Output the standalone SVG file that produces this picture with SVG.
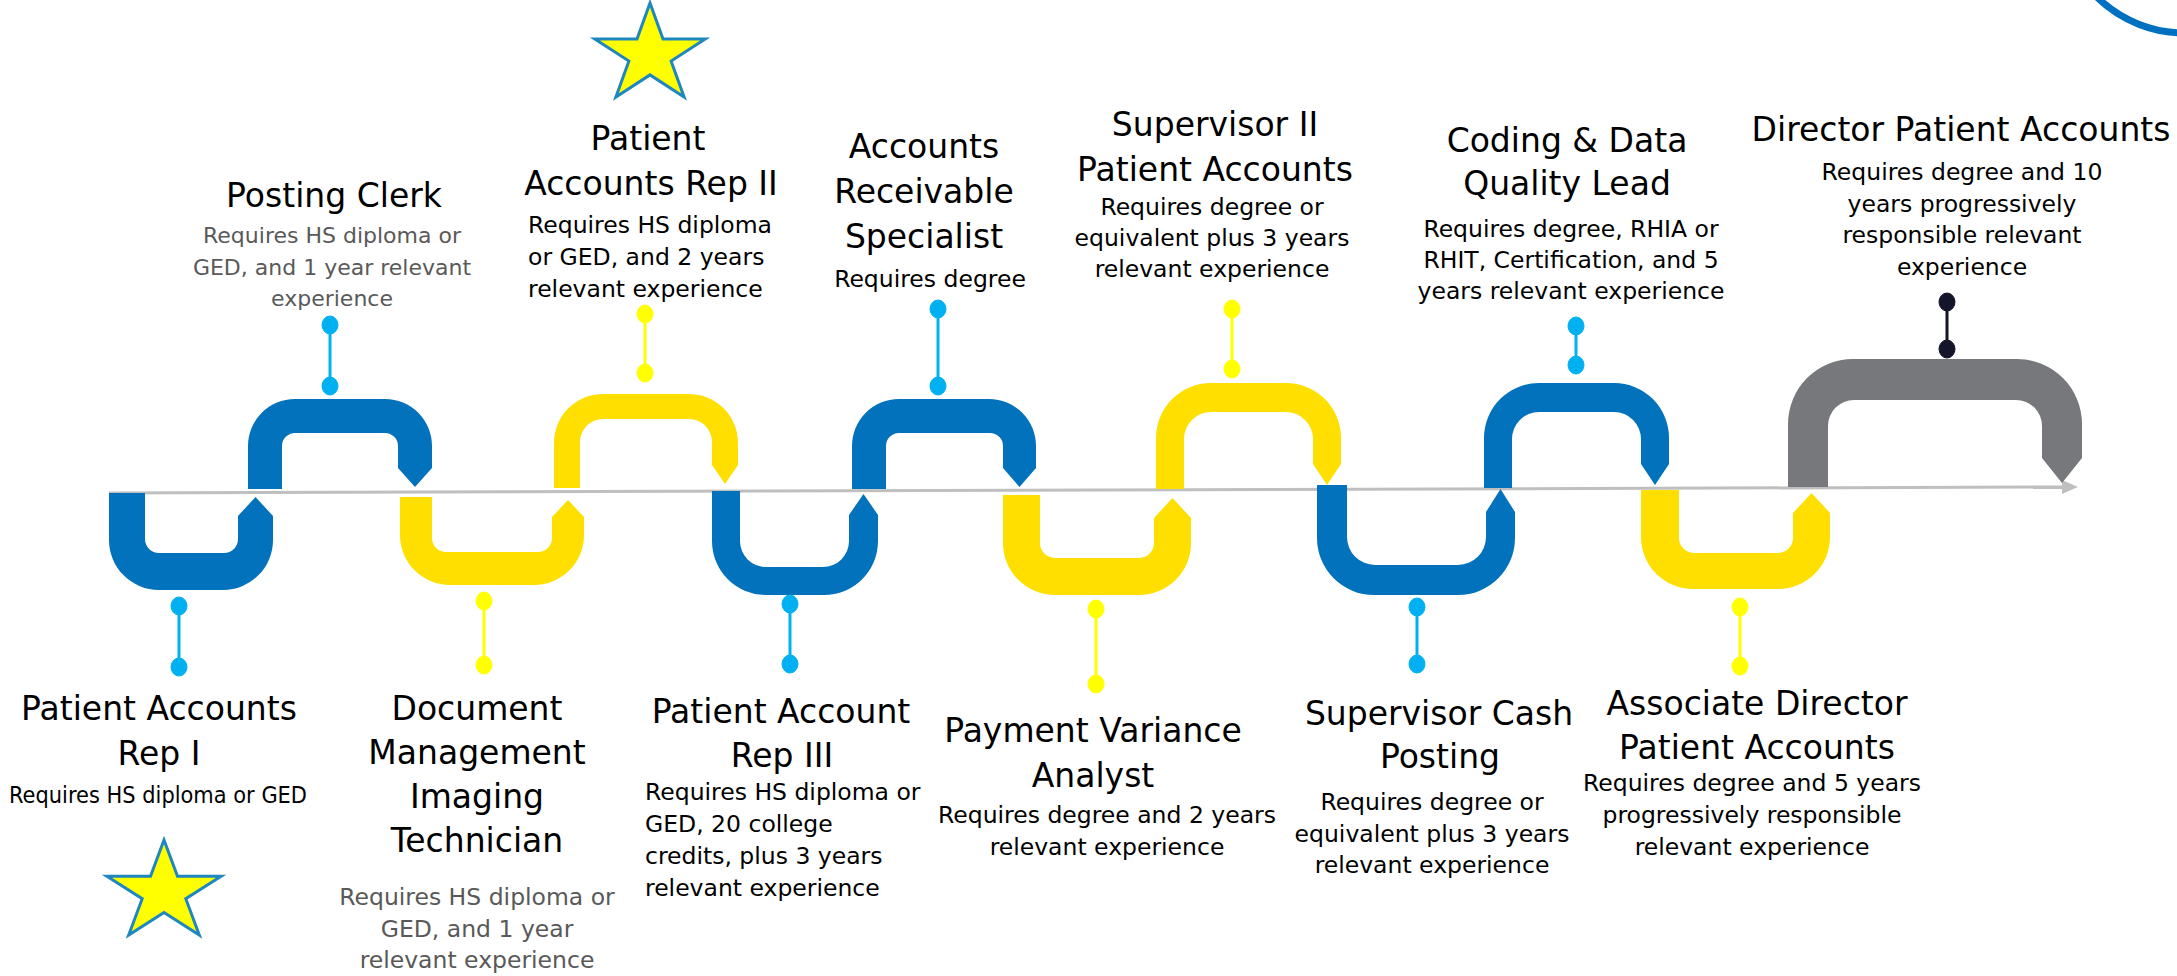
<svg xmlns="http://www.w3.org/2000/svg" width="2177" height="976" viewBox="0 0 2177 976">
<style>
text{font-family:"DejaVu Sans","Liberation Sans",sans-serif;fill:#000}
.h{font-size:33px;text-anchor:middle}
.d{font-size:23.5px;text-anchor:middle}
.ds{font-size:22px;text-anchor:middle}
.dl{font-size:23.5px;text-anchor:start}
.g{fill:#595959}
.blue{fill:#0272BC}
.yel{fill:#FFDF00}
.gry{fill:#77787B}
.pb{stroke:#00B0F0;fill:#00B0F0}
.py{stroke:#FFFF00;fill:#FFFF00}
.pk{stroke:#14142B;fill:#14142B}
.pin line{stroke-width:3}
.star{fill:#FFFF00;stroke:#1F87C0;stroke-width:3;stroke-linejoin:miter}
</style>
<rect width="2177" height="976" fill="#fff"/>
<circle cx="2185" cy="-93" r="126" fill="none" stroke="#0070C0" stroke-width="7"/>
<g id="connectors">
<line x1="109" y1="493" x2="2064" y2="487" stroke="#BFBFBF" stroke-width="3"/>
<polygon points="2062,480 2078,487 2062,494" fill="#BFBFBF"/>
</g>
<g id="shapes">
<path class="blue" d="M109,493 L109,540 A50,50 0 0 0 159,590 L223,590 A50,50 0 0 0 273,540 L273,516 L255.5,497 L238,516 L238,539 A14,14 0 0 1 224,553 L159,553 A14,14 0 0 1 145,539 L145,493 Z"/>
<path class="blue" d="M248,489 L248,446 A47,47 0 0 1 295,399 L385,399 A47,47 0 0 1 432,446 L432,468 L415,487 L398,468 L398,446 A13,13 0 0 0 385,433 L295,433 A13,13 0 0 0 282,446 L282,489 Z"/>
<path class="yel" d="M400,497 L400,535 A50,50 0 0 0 450,585 L534,585 A50,50 0 0 0 584,535 L584,517 L568,500 L552,517 L552,538 A14,14 0 0 1 538,552 L446,552 A14,14 0 0 1 432,538 L432,497 Z"/>
<path class="yel" d="M554,488 L554,443 A49,49 0 0 1 603,394 L689,394 A49,49 0 0 1 738,443 L738,465 L725,484 L712,465 L712,442 A23,23 0 0 0 689,419 L603,419 A23,23 0 0 0 580,442 L580,488 Z"/>
<path class="blue" d="M712,491 L712,541 A54,54 0 0 0 766,595 L824,595 A54,54 0 0 0 878,541 L878,515 L863.5,494 L849,515 L849,541 A26,26 0 0 1 823,567 L766,567 A26,26 0 0 1 740,541 L740,491 Z"/>
<path class="blue" d="M852,489 L852,446 A47,47 0 0 1 899,399 L989,399 A47,47 0 0 1 1036,446 L1036,468 L1019.5,487 L1003,468 L1003,446 A13,13 0 0 0 990,433 L899,433 A13,13 0 0 0 886,446 L886,489 Z"/>
<path class="yel" d="M1003,495 L1003,543 A52,52 0 0 0 1055,595 L1139,595 A52,52 0 0 0 1191,543 L1191,518 L1172.5,498 L1154,518 L1154,543 A15,15 0 0 1 1139,558 L1055,558 A15,15 0 0 1 1040,543 L1040,495 Z"/>
<path class="yel" d="M1156,489 L1156,438 A55,55 0 0 1 1211,383 L1286,383 A55,55 0 0 1 1341,438 L1341,464 L1327,485 L1313,464 L1313,439 A27,27 0 0 0 1286,412 L1211,412 A27,27 0 0 0 1184,439 L1184,489 Z"/>
<path class="blue" d="M1317,485 L1317,538 A57,57 0 0 0 1374,595 L1458,595 A57,57 0 0 0 1515,538 L1515,512 L1500.5,489 L1486,512 L1486,537 A28,28 0 0 1 1458,565 L1375,565 A28,28 0 0 1 1347,537 L1347,485 Z"/>
<path class="blue" d="M1484,488 L1484,438 A55,55 0 0 1 1539,383 L1614,383 A55,55 0 0 1 1669,438 L1669,464 L1655,485 L1641,464 L1641,439 A27,27 0 0 0 1614,412 L1539,412 A27,27 0 0 0 1512,439 L1512,488 Z"/>
<path class="yel" d="M1641,490 L1641,537 A52,52 0 0 0 1693,589 L1778,589 A52,52 0 0 0 1830,537 L1830,513 L1811.5,493 L1793,513 L1793,538 A15,15 0 0 1 1778,553 L1694,553 A15,15 0 0 1 1679,538 L1679,490 Z"/>
<path class="gry" d="M1788,487 L1788,424 A65,65 0 0 1 1853,359 L2017,359 A65,65 0 0 1 2082,424 L2082,458 L2062,483 L2042,458 L2042,426 A26,26 0 0 0 2016,400 L1854,400 A26,26 0 0 0 1828,426 L1828,487 Z"/>
</g>
<polygon class="star" points="650,3 663,38.9 705.2,38.9 671.1,61.1 684.1,97.1 650,74.9 615.9,97.1 628.9,61.1 594.8,38.9 637,38.9"/>
<polygon class="star" points="164,840 177.5,876.3 221.1,876.3 185.8,898.7 199.3,935 164,912.6 128.7,935 142.2,898.7 106.9,876.3 150.5,876.3"/>

<g id="n-rep1">
<g class="pin pb"><line x1="179" y1="606" x2="179" y2="667"/><ellipse cx="179" cy="606" rx="8" ry="9"/><ellipse cx="179" cy="667" rx="8" ry="9"/></g>
<text class="h" x="159" y="720">Patient Accounts</text>
<text class="h" x="159" y="765">Rep I</text>
<text class="d" x="158" y="803" textLength="298" lengthAdjust="spacingAndGlyphs">Requires HS diploma or GED</text>
</g>
<g id="n-posting">
<g class="pin pb"><line x1="330" y1="325" x2="330" y2="386"/><ellipse cx="330" cy="325" rx="8" ry="9"/><ellipse cx="330" cy="386" rx="8" ry="9"/></g>
<text class="h" x="334" y="207">Posting Clerk</text>
<text class="ds g" x="332" y="243">Requires HS diploma or</text>
<text class="ds g" x="332" y="275">GED, and 1 year relevant</text>
<text class="ds g" x="332" y="306">experience</text>
</g>
<g id="n-docmgmt">
<g class="pin py"><line x1="484" y1="601" x2="484" y2="665"/><ellipse cx="484" cy="601" rx="8" ry="9"/><ellipse cx="484" cy="665" rx="8" ry="9"/></g>
<text class="h" x="477" y="720">Document</text>
<text class="h" x="477" y="764">Management</text>
<text class="h" x="477" y="808">Imaging</text>
<text class="h" x="477" y="852">Technician</text>
<text class="d g" x="477" y="905">Requires HS diploma or</text>
<text class="d g" x="477" y="937">GED, and 1 year</text>
<text class="d g" x="477" y="968">relevant experience</text>
</g>
<g id="n-rep2">
<g class="pin py"><line x1="645" y1="314" x2="645" y2="373"/><ellipse cx="645" cy="314" rx="8" ry="9"/><ellipse cx="645" cy="373" rx="8" ry="9"/></g>
<text class="h" x="648" y="150">Patient</text>
<text class="h" x="651" y="195">Accounts Rep II</text>
<text class="dl" x="528" y="233">Requires HS diploma</text>
<text class="dl" x="528" y="265">or GED, and 2 years</text>
<text class="dl" x="528" y="297">relevant experience</text>
</g>
<g id="n-rep3">
<g class="pin pb"><line x1="790" y1="604" x2="790" y2="664"/><ellipse cx="790" cy="604" rx="8" ry="9"/><ellipse cx="790" cy="664" rx="8" ry="9"/></g>
<text class="h" x="781" y="723">Patient Account</text>
<text class="h" x="782" y="767">Rep III</text>
<text class="dl" x="645" y="800">Requires HS diploma or</text>
<text class="dl" x="645" y="832">GED, 20 college</text>
<text class="dl" x="645" y="864">credits, plus 3 years</text>
<text class="dl" x="645" y="896">relevant experience</text>
</g>
<g id="n-ar">
<g class="pin pb"><line x1="938" y1="309" x2="938" y2="386"/><ellipse cx="938" cy="309" rx="8" ry="9"/><ellipse cx="938" cy="386" rx="8" ry="9"/></g>
<text class="h" x="924" y="158">Accounts</text>
<text class="h" x="924" y="203">Receivable</text>
<text class="h" x="924" y="248">Specialist</text>
<text class="d" x="930" y="287">Requires degree</text>
</g>
<g id="n-payvar">
<g class="pin py"><line x1="1096" y1="609" x2="1096" y2="684"/><ellipse cx="1096" cy="609" rx="8" ry="9"/><ellipse cx="1096" cy="684" rx="8" ry="9"/></g>
<text class="h" x="1093" y="742">Payment Variance</text>
<text class="h" x="1093" y="787">Analyst</text>
<text class="d" x="1107" y="823">Requires degree and 2 years</text>
<text class="d" x="1107" y="855">relevant experience</text>
</g>
<g id="n-sup2">
<g class="pin py"><line x1="1232" y1="309" x2="1232" y2="369"/><ellipse cx="1232" cy="309" rx="8" ry="9"/><ellipse cx="1232" cy="369" rx="8" ry="9"/></g>
<text class="h" x="1215" y="136">Supervisor II</text>
<text class="h" x="1215" y="181">Patient Accounts</text>
<text class="d" x="1212" y="215">Requires degree or</text>
<text class="d" x="1212" y="246">equivalent plus 3 years</text>
<text class="d" x="1212" y="277">relevant experience</text>
</g>
<g id="n-supcash">
<g class="pin pb"><line x1="1417" y1="607" x2="1417" y2="664"/><ellipse cx="1417" cy="607" rx="8" ry="9"/><ellipse cx="1417" cy="664" rx="8" ry="9"/></g>
<text class="h" x="1439" y="725">Supervisor Cash</text>
<text class="h" x="1440" y="768">Posting</text>
<text class="d" x="1432" y="810">Requires degree or</text>
<text class="d" x="1432" y="842">equivalent plus 3 years</text>
<text class="d" x="1432" y="873">relevant experience</text>
</g>
<g id="n-coding">
<g class="pin pb"><line x1="1576" y1="326" x2="1576" y2="365"/><ellipse cx="1576" cy="326" rx="8" ry="9"/><ellipse cx="1576" cy="365" rx="8" ry="9"/></g>
<text class="h" x="1567" y="152">Coding &amp; Data</text>
<text class="h" x="1567" y="195">Quality Lead</text>
<text class="d" x="1571" y="237">Requires degree, RHIA or</text>
<text class="d" x="1571" y="268">RHIT, Certification, and 5</text>
<text class="d" x="1571" y="299">years relevant experience</text>
</g>
<g id="n-assocdir">
<g class="pin py"><line x1="1740" y1="607" x2="1740" y2="666"/><ellipse cx="1740" cy="607" rx="8" ry="9"/><ellipse cx="1740" cy="666" rx="8" ry="9"/></g>
<text class="h" x="1757" y="715">Associate Director</text>
<text class="h" x="1757" y="759">Patient Accounts</text>
<text class="d" x="1752" y="791">Requires degree and 5 years</text>
<text class="d" x="1752" y="823">progressively responsible</text>
<text class="d" x="1752" y="855">relevant experience</text>
</g>
<g id="n-director">
<g class="pin pk"><line x1="1947" y1="302" x2="1947" y2="349"/><ellipse cx="1947" cy="302" rx="8" ry="9"/><ellipse cx="1947" cy="349" rx="8" ry="9"/></g>
<text class="h" x="1961" y="141">Director Patient Accounts</text>
<text class="d" x="1962" y="180">Requires degree and 10</text>
<text class="d" x="1962" y="212">years progressively</text>
<text class="d" x="1962" y="243">responsible relevant</text>
<text class="d" x="1962" y="275">experience</text>
</g>
</svg>
